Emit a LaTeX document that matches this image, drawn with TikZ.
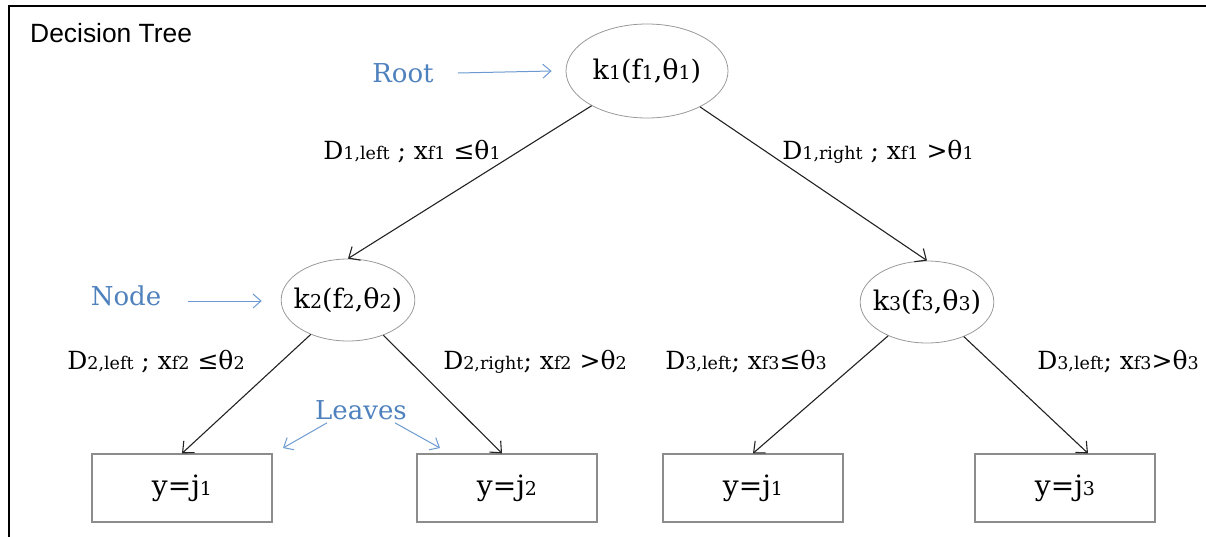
\documentclass[tikz,border=0pt]{standalone}
\usepackage{fontspec}
\setmainfont{DejaVu Serif}
\newfontfamily\arialf{Liberation Sans}
\usetikzlibrary{shapes.geometric,arrows.meta,calc}
\definecolor{officeblue}{HTML}{4F81BD}
\definecolor{arrowblue}{HTML}{6C9AD0}
\definecolor{edgegray}{HTML}{222222}
\definecolor{boxgray}{HTML}{8C8C8C}
\newcommand\nsub[1]{{\fontsize{19}{19}\selectfont #1}}
\newcommand\lsub[1]{{\fontsize{17.5}{17.5}\selectfont #1}}
\begin{document}
\begin{tikzpicture}[x=1pt,y=-1pt,
  ellnode/.style={ellipse, draw=gray!80, line width=0.8pt, inner sep=0pt, font=\fontsize{27}{27}\selectfont},
  leafbox/.style={rectangle, draw=boxgray, line width=1.3pt, minimum width=180pt, minimum height=68pt, inner sep=0pt, font=\fontsize{28}{28}\selectfont},
  edgelbl/.style={inner sep=0pt, font=\fontsize{25}{25}\selectfont},
  bluelbl/.style={inner sep=0pt, text=officeblue, font=\fontsize{26}{26}\selectfont},
  edge/.style={draw=edgegray, line width=1.1pt, -{Straight Barb[length=9pt,width=16pt]}},
  bluearrow/.style={draw=arrowblue, line width=1pt, -{Straight Barb[length=8pt,width=14pt]}}
]
\useasboundingbox (0,0) rectangle (1206,536);
\draw[line width=2pt] (9,537) -- (9,6) -- (1207,6);
\node[anchor=west, inner sep=0pt, font=\arialf\fontsize{26.4}{26.4}\selectfont] (title) at (30,33) {Decision Tree};

% decision nodes
\node[ellnode, minimum width=162pt, minimum height=94pt] (root) at (647,71) {k\nsub{1}(f\nsub{1},θ\nsub{1})};
\node[ellnode, inner xsep=-7pt, minimum width=130pt, minimum height=82pt] (n2) at (348,300) {k\nsub{2}(f\nsub{2},θ\nsub{2})};
\node[ellnode, inner xsep=-7pt, minimum width=130pt, minimum height=82pt] (n3) at (927,302) {k\nsub{3}(f\nsub{3},θ\nsub{3})};

% leaves
\node[leafbox] (l1) at (182,488) {y=j\nsub{1}};
\node[leafbox] (l2) at (507,488) {y=j\nsub{2}};
\node[leafbox] (l3) at (753,488) {y=j\nsub{1}};
\node[leafbox] (l4) at (1065,488) {y=j\nsub{3}};

% edges
\draw[edge] (root) -- (n2.north);
\draw[edge] (root) -- (n3.north);
\draw[edge] (n2) -- (l1.north);
\draw[edge] (n2) -- ($(l2.north)+(-5,0)$);
\draw[edge] (n3) -- (l3.north);
\draw[edge] (n3) -- ($(l4.north)+(23,0)$);

% edge labels
\node[edgelbl] (e1) at (412,152) {D\lsub{1,left} ; x\lsub{f1} ≤θ\lsub{1}};
\node[edgelbl] (e2) at (878,152) {D\lsub{1,right} ; x\lsub{f1} >θ\lsub{1}};
\node[edgelbl] (e3) at (156,362) {D\lsub{2,left} ; x\lsub{f2} ≤θ\lsub{2}};
\node[edgelbl] (e4) at (535,362) {D\lsub{2,right}; x\lsub{f2} >θ\lsub{2}};
\node[edgelbl] (e5) at (746,362) {D\lsub{3,left}; x\lsub{f3}≤θ\lsub{3}};
\node[edgelbl] (e6) at (1118,362) {D\lsub{3,left}; x\lsub{f3}>θ\lsub{3}};

% blue annotations
\node[bluelbl] (rootlbl) at (403,73) {Root};
\node[bluelbl] (nodelbl) at (126,296) {Node};
\node[bluelbl] (leaveslbl) at (361,410) {Leaves};
\coordinate (lvA) at (283,448);
\coordinate (lvB) at (440,448);
\draw[bluearrow] ($(rootlbl.east)+(24,0)$) -- ($(root.west)+(-14,0)$);
\draw[bluearrow] ($(nodelbl.east)+(27,5)$) -- ($(n2.west)+(-19,1)$);
\draw[bluearrow] ($(leaveslbl.south west)+(12,3)$) -- (lvA);
\draw[bluearrow] ($(leaveslbl.south east)+(-12,3)$) -- (lvB);
\end{tikzpicture}
\end{document}
